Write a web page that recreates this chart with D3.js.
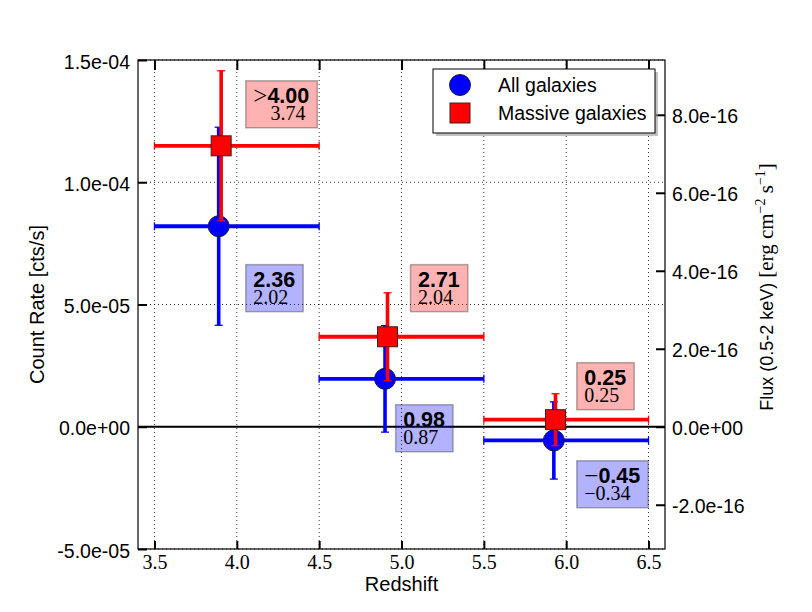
<!DOCTYPE html>
<html><head><meta charset="utf-8">
<script src="https://cdn.jsdelivr.net/npm/d3@7"></script>
<style>body{margin:0;background:#fff;} svg{display:block;}</style>
</head><body>
<script>
// ---------- data ----------
const xTicks = [3.5, 4.0, 4.5, 5.0, 5.5, 6.0, 6.5];
const yTicks = [-5e-5, 0, 5e-5, 1e-4, 1.5e-4];
const fluxTicks = [-2e-16, 0, 2e-16, 4e-16, 6e-16, 8e-16];
const xDomain = [3.4, 6.6];
const yDomain = [-5e-5, 1.5e-4];
const countToFlux = 6.27e-12;

const binLow  = [3.5, 4.5, 5.5];
const binHigh = [4.5, 5.5, 6.5];
const allX   = [3.89, 4.90, 5.925];
const allY   = [8.2e-5, 1.96e-5, -5.6e-6];
const allErr = [4.05e-5, 2.18e-5, 1.58e-5];
const massX   = [3.905, 4.915, 5.935];
const massY   = [1.149e-4, 3.68e-5, 2.9e-6];
const massErr = [3.07e-5, 1.8e-5, 1.06e-5];

const annX = [4.1, 4.1, 5.1, 5.01, 6.11, 6.11];
const annY = [1.325e-4, 5.73e-5, 5.73e-5, 0, 1.72e-5, -2.29e-5];
const annPrefix = ['>', '', '', '', '', '\u2212'];
const annMain = ['4.00', '2.36', '2.71', '0.98', '0.25', '0.45'];
const annSub = ['3.74', '2.02', '2.04', '0.87', '0.25', '\u22120.34'];
const annSeries = ['mass', 'all', 'mass', 'all', 'mass', 'all'];

const legendLabels = ['All galaxies', 'Massive galaxies'];

// ---------- setup ----------
const W = 812, H = 612;
const L = 138, T = 60, R = 665, B = 549;
const SANS = "'Liberation Sans', Arial, Helvetica, sans-serif";
const SERIF = "'Liberation Serif', 'Times New Roman', serif";
const BLUE = '#0000ff', RED = '#ff0000';

const svg = d3.select('body').append('svg').attr('width', W).attr('height', H);
const x = d3.scaleLinear().domain(xDomain).range([L, R]);
const y = d3.scaleLinear().domain(yDomain).range([B, T]);
const y2 = d3.scaleLinear().domain(yDomain.map(v => v * countToFlux)).range([B, T]);

function sci(v) {
  let [m, e] = v.toExponential(1).split('e');
  let sign = e[0] === '-' ? '-' : '+';
  let ex = e.replace(/^[+-]/, '').padStart(2, '0');
  return m + 'e' + sign + ex;
}

// grid
const grid = svg.append('g').attr('stroke', '#000').attr('stroke-width', 0.8).attr('stroke-dasharray', '1,3');
grid.selectAll('.gx').data(xTicks).join('line')
  .attr('x1', d => x(d)).attr('x2', d => x(d)).attr('y1', T).attr('y2', B);
grid.selectAll('.gy').data(yTicks).join('line')
  .attr('y1', d => y(d)).attr('y2', d => y(d)).attr('x1', L).attr('x2', R);

// zero line
svg.append('line').attr('x1', L).attr('x2', R).attr('y1', y(0)).attr('y2', y(0))
  .attr('stroke', '#000').attr('stroke-width', 2.2);

// error bars + markers
function drawSeries(xs, ys, es, color, marker) {
  const g = svg.append('g');
  xs.forEach((xv, i) => {
    const cy = y(ys[i]), cx = x(xv);
    const x0 = x(binLow[i]), x1 = x(binHigh[i]);
    const yt = y(ys[i] + es[i]), yb = y(ys[i] - es[i]);
    g.append('line').attr('x1', x0).attr('x2', x1).attr('y1', cy).attr('y2', cy)
      .attr('stroke', color).attr('stroke-width', 3.8);
    [x0, x1].forEach(xx => g.append('line').attr('x1', xx).attr('x2', xx)
      .attr('y1', cy - 4).attr('y2', cy + 4).attr('stroke', color).attr('stroke-width', 1.3));
    g.append('line').attr('x1', cx).attr('x2', cx).attr('y1', yt).attr('y2', yb)
      .attr('stroke', color).attr('stroke-width', 3.6);
    [yt, yb].forEach(yy => g.append('line').attr('x1', cx - 4).attr('x2', cx + 4)
      .attr('y1', yy).attr('y2', yy).attr('stroke', color).attr('stroke-width', 1.3));
  });
  xs.forEach((xv, i) => {
    const cy = y(ys[i]), cx = x(xv);
    if (marker === 'circle') {
      g.append('circle').attr('cx', cx).attr('cy', cy).attr('r', 10.5)
        .attr('fill', color).attr('stroke', '#1a1a40').attr('stroke-width', 1);
    } else {
      g.append('rect').attr('x', cx - 10).attr('y', cy - 10).attr('width', 20).attr('height', 20)
        .attr('fill', color).attr('stroke', '#402020').attr('stroke-width', 1);
    }
  });
}
drawSeries(allX, allY, allErr, BLUE, 'circle');
drawSeries(massX, massY, massErr, RED, 'square');

// annotations
annX.forEach((ax, i) => {
  const g = svg.append('g');
  const tx = x(ax), ty = y(annY[i]);
  const color = annSeries[i] === 'mass' ? RED : BLUE;
  const rect = g.append('rect');
  const t = g.append('text').attr('x', tx).attr('y', ty);
  if (annPrefix[i]) {
    t.append('tspan').attr('font-family', SERIF).attr('font-size', 25).attr('dy', 1).text(annPrefix[i]);
    t.append('tspan').attr('font-family', SANS).attr('font-weight', 'bold').attr('font-size', 21.5).attr('dy', -1).text(annMain[i]);
  } else {
    t.append('tspan').attr('font-family', SANS).attr('font-weight', 'bold').attr('font-size', 21.5).text(annMain[i]);
  }
  const t2 = g.append('text').attr('x', tx).attr('y', ty + 17).attr('font-family', SERIF).attr('font-size', 20);
  if (annPrefix[i] && !annSub[i].startsWith(annPrefix[i])) {
    t2.append('tspan').attr('fill-opacity', 0).attr('font-size', 25).text(annPrefix[i]);
    t2.append('tspan').attr('dx', 3).text(annSub[i]);
  } else {
    t2.append('tspan').text(annSub[i]);
  }
  const b1 = t.node().getBBox(), b2 = t2.node().getBBox();
  const left = tx - 7.5;
  const right = Math.max(b1.x + b1.width, b2.x + b2.width) + 8;
  rect.attr('x', left).attr('y', ty - 22).attr('width', right - left).attr('height', 47)
    .attr('fill', color).attr('fill-opacity', 0.3)
    .attr('stroke', '#000').attr('stroke-opacity', 0.3).attr('stroke-width', 1.5);
});

// spines
svg.append('rect').attr('x', L).attr('y', T).attr('width', R - L).attr('height', B - T)
  .attr('fill', 'none').attr('stroke', '#000').attr('stroke-width', 1.2);

// axes
function styleAxis(g) {
  g.select('.domain').remove();
  g.selectAll('.tick line').attr('stroke', '#000').attr('stroke-width', 2);
}
const axB = svg.append('g').attr('transform', `translate(0,${B})`)
  .call(d3.axisBottom(x).tickValues(xTicks).tickSize(-8).tickPadding(6).tickFormat(d3.format('.1f')));
styleAxis(axB);
axB.selectAll('text').attr('font-family', SERIF).attr('font-size', 20).attr('fill', '#000');

const axT = svg.append('g').attr('transform', `translate(0,${T})`)
  .call(d3.axisTop(x).tickValues(xTicks).tickSize(-10).tickFormat(''));
styleAxis(axT);

const axL = svg.append('g').attr('transform', `translate(${L},0)`)
  .call(d3.axisLeft(y).tickValues(yTicks).tickSize(-9).tickPadding(8).tickFormat(sci));
styleAxis(axL);
axL.selectAll('text').attr('font-family', SANS).attr('font-size', 19.5).attr('fill', '#000').attr('dy', '0.42em');

const axR = svg.append('g').attr('transform', `translate(${R},0)`)
  .call(d3.axisRight(y2).tickValues(fluxTicks).tickSize(-9).tickPadding(7).tickFormat(sci));
styleAxis(axR);
axR.selectAll('text').attr('font-family', SANS).attr('font-size', 19.5).attr('fill', '#000').attr('dy', '0.42em');

// axis labels
svg.append('text').attr('x', (L + R) / 2).attr('y', 591).attr('text-anchor', 'middle')
  .attr('font-family', SANS).attr('font-size', 20).text('Redshift');
svg.append('text').attr('transform', `translate(44,${(T + B) / 2}) rotate(-90)`).attr('text-anchor', 'middle')
  .attr('font-family', SANS).attr('font-size', 20).text('Count Rate [cts/s]');

const rl = svg.append('text').attr('transform', `translate(773,287) rotate(-90)`).attr('text-anchor', 'middle');
rl.append('tspan').attr('font-family', SANS).attr('font-size', 18).text('Flux (0.5-2 keV) ');
rl.append('tspan').attr('font-family', SERIF).attr('font-size', 21).text('[erg cm');
rl.append('tspan').attr('font-family', SERIF).attr('font-size', 14).attr('dy', -8).text('\u22122');
rl.append('tspan').attr('font-family', SERIF).attr('font-size', 21).attr('dy', 8).text(' s');
rl.append('tspan').attr('font-family', SERIF).attr('font-size', 14).attr('dy', -8).text('\u22121');
rl.append('tspan').attr('font-family', SERIF).attr('font-size', 21).attr('dy', 8).text(']');

// legend
const lg = svg.append('g');
lg.append('rect').attr('x', 436).attr('y', 72).attr('width', 222).attr('height', 64).attr('fill', '#9a9a9a').attr('opacity', 0.6);
lg.append('rect').attr('x', 433).attr('y', 69).attr('width', 222).attr('height', 64)
  .attr('fill', '#fff').attr('stroke', '#000').attr('stroke-width', 1);
lg.append('circle').attr('cx', 460).attr('cy', 85).attr('r', 10.5).attr('fill', BLUE).attr('stroke', '#1a1a40').attr('stroke-width', 1);
lg.append('rect').attr('x', 450).attr('y', 103).attr('width', 20).attr('height', 20).attr('fill', RED).attr('stroke', '#402020').attr('stroke-width', 1);
lg.selectAll('.lt').data(legendLabels).join('text')
  .attr('x', 498).attr('y', (d, i) => 92 + i * 28)
  .attr('font-family', SANS).attr('font-size', 19.5).text(d => d);
</script>
</body></html>
